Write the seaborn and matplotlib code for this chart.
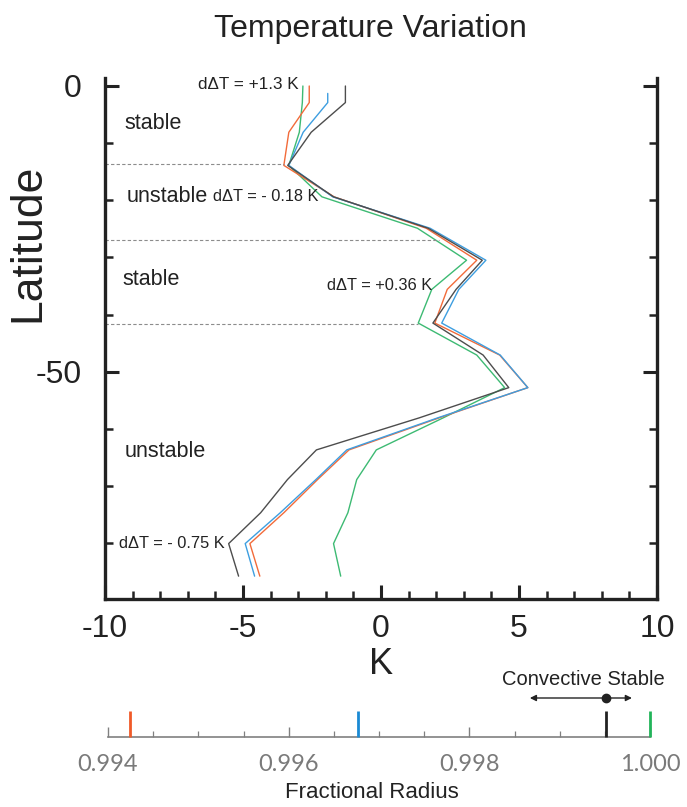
import matplotlib
matplotlib.use("Agg")
import matplotlib.pyplot as plt
from matplotlib.ticker import MultipleLocator
import pandas as pd
import seaborn as sns


# latitude grid of the profiles (blue starts a bit lower)
LAT = [0, -2.9, -8.1, -13.9, -19.4, -24.9, -30.5, -35.6, -41.5, -47.1,
       -52.8, -58.1, -63.7, -68.9, -74.7, -80.1, -85.8]
LAT_BLUE = [-1.3] + LAT[1:]

# temperature variation (K) per run
GRAY_K = [-1.29, -1.29, -2.53, -3.38, -1.72, 1.71, 3.67, 2.72, 1.88, 3.70,
          4.63, 1.38, -2.34, -3.39, -4.36, -5.52, -5.16]
BLUE_K = [-1.93, -1.93, -2.82, -3.34, -1.75, 1.78, 3.80, 2.82, 2.20, 4.32,
          5.32, 2.05, -1.24, -2.36, -3.65, -4.92, -4.58]
ORANGE_K = [-2.60, -2.60, -3.34, -3.52, -1.70, 1.64, 3.47, 2.40, 1.95, 4.30,
            5.32, 2.10, -1.16, -2.30, -3.52, -4.75, -4.39]
GREEN_K = [-2.83, -2.85, -2.96, -3.34, -2.14, 1.32, 3.10, 1.84, 1.35, 3.47,
           4.48, 2.25, -0.17, -0.88, -1.20, -1.72, -1.46]

RUNS = ["gray", "blue", "orange", "green"]
LINE_COLORS = {"gray": "#4d4d4d", "blue": "#3d9ee0", "orange": "#f26b3a", "green": "#3dba73"}

# stability boundaries (latitude, K where the dashed line stops)
BOUND_LAT = [-13.7, -26.9, -41.6]
BOUND_END = [-3.5, 2.1, 1.35]

# fractional radius of each run
MARK_RADIUS = [0.99424, 0.99677, 0.99951, 1.0000]
MARK_COLORS = ["#f05a28", "#1a8ad4", "#222222", "#22b45a"]
RADIUS_TICKS = [0.994, 0.996, 0.998, 1.000]


def build_frame():
    parts = []
    for run, k, lat in [("gray", GRAY_K, LAT), ("blue", BLUE_K, LAT_BLUE),
                        ("orange", ORANGE_K, LAT), ("green", GREEN_K, LAT)]:
        parts.append(pd.DataFrame({"run": run, "K": k, "lat": lat}))
    return pd.concat(parts, ignore_index=True)


def main():
    sns.set_theme(style="white")
    plt.rcParams["font.family"] = ["Liberation Sans", "DejaVu Sans"]
    plt.rcParams["axes.unicode_minus"] = False
    ink = "#222222"

    W, H = 687, 807
    fig = plt.figure(figsize=(W / 100, H / 100), dpi=100)
    ax = fig.add_axes([105 / W, 1 - 599 / H, 552 / W, 521 / H])

    df = build_frame()
    sns.lineplot(data=df, x="K", y="lat", hue="run", hue_order=RUNS[::-1],
                 palette=LINE_COLORS, sort=False, estimator=None,
                 legend=False, lw=1.0, ax=ax)

    ax.hlines(BOUND_LAT, -10, BOUND_END, colors="#8c8c8c", lw=0.8,
              linestyles=(0, (3, 2)))

    ax.set_xlim(-10, 10)
    ax.set_ylim(-89.8, 1.4)
    ax.set_xticks([-10, -5, 0, 5, 10])
    ax.xaxis.set_minor_locator(MultipleLocator(1))
    ax.set_yticks([0, -50])
    ax.yaxis.set_minor_locator(MultipleLocator(10))
    ax.tick_params(which="both", direction="in", color=ink, right=True,
                   left=True, bottom=True, top=False, labelright=False)
    ax.tick_params(which="major", length=10, width=2.2)
    ax.tick_params(which="minor", length=5.5, width=1.8)
    ax.tick_params(axis="x", which="major", labelsize=23, pad=11, labelcolor=ink)
    ax.tick_params(axis="y", which="major", labelsize=23, pad=17, labelcolor=ink)
    ax.set_xlabel("")
    ax.set_ylabel("")
    for side in ["left", "right", "bottom"]:
        ax.spines[side].set_color(ink)
        ax.spines[side].set_linewidth(2.4)
    ax.spines["top"].set_visible(False)

    kw = dict(color=ink, va="center")
    ax.text(-3.0, 0.2, "d\u0394T = +1.3 K", ha="right", fontsize=12.3, **kw)
    ax.text(-9.3, -6.5, "stable", ha="left", fontsize=15.5, **kw)
    ax.text(-9.2, -19.3, "unstable", ha="left", fontsize=15.5, **kw)
    ax.text(-6.1, -19.3, "d\u0394T = - 0.18 K", ha="left", fontsize=11.8, **kw)
    ax.text(-9.35, -33.9, "stable", ha="left", fontsize=15.5, **kw)
    ax.text(-1.95, -35.0, "d\u0394T = +0.36 K", ha="left", fontsize=11.8, **kw)
    ax.text(-9.3, -64.0, "unstable", ha="left", fontsize=15.5, **kw)
    ax.text(-9.5, -80.1, "d\u0394T = - 0.75 K", ha="left", fontsize=11.8, **kw)

    fig.text(370 / W, 1 - 37 / H, "Temperature Variation", ha="center",
             va="baseline", fontsize=23, color=ink)
    fig.text(28 / W, 1 - 243 / H, "Latitude", ha="center", va="center",
             rotation=90, fontsize=32, color=ink)
    fig.text(381 / W, 1 - 665 / H, "K", ha="center", va="center",
             fontsize=26, color=ink)

    # fractional radius strip
    ax2 = fig.add_axes([108 / W, 1 - 737 / H, 542 / W, 26 / H])
    ax2.set_xlim(0.994, 1.000)
    ax2.set_ylim(0, 1)
    ax2.patch.set_alpha(0)
    for side in ["left", "right", "top"]:
        ax2.spines[side].set_visible(False)
    ax2.spines["bottom"].set_color("#808080")
    ax2.spines["bottom"].set_linewidth(1.2)
    ax2.set_yticks([])
    ax2.set_xticks(RADIUS_TICKS)
    ax2.set_xticklabels([f"{v:.3f}" for v in RADIUS_TICKS])
    ax2.xaxis.set_minor_locator(MultipleLocator(0.0005))
    ax2.tick_params(which="both", direction="in", color="#808080", bottom=True)
    ax2.tick_params(which="major", length=7, width=1.0, labelsize=17,
                    labelcolor="#7a7a7a", pad=12)
    ax2.tick_params(which="minor", length=4, width=0.9)
    for lbl in ax2.get_xticklabels():
        lbl.set_family(["Lato", "Liberation Sans"])

    ax2.vlines(MARK_RADIUS, 0, 1, colors=MARK_COLORS, lw=2.0, clip_on=False,
               zorder=5)
    ax2.annotate("", xy=(0.99867, 1.5), xytext=(0.99980, 1.5),
                 arrowprops=dict(arrowstyle="<|-|>", color=ink, lw=1.0,
                                 mutation_scale=9, shrinkA=0, shrinkB=0),
                 annotation_clip=False)
    ax2.plot([MARK_RADIUS[2]], [1.5], "o", ms=6, color=ink, clip_on=False)
    ax2.text(0.999258, 2.2, "Convective Stable", ha="center", va="center",
             fontsize=14.5, color=ink, clip_on=False)

    fig.text(372 / W, 1 - 793 / H, "Fractional Radius", ha="center",
             va="center", fontsize=16, color=ink)

    fig.savefig("out.png", dpi=100)
    plt.close(fig)


if __name__ == "__main__":
    main()
